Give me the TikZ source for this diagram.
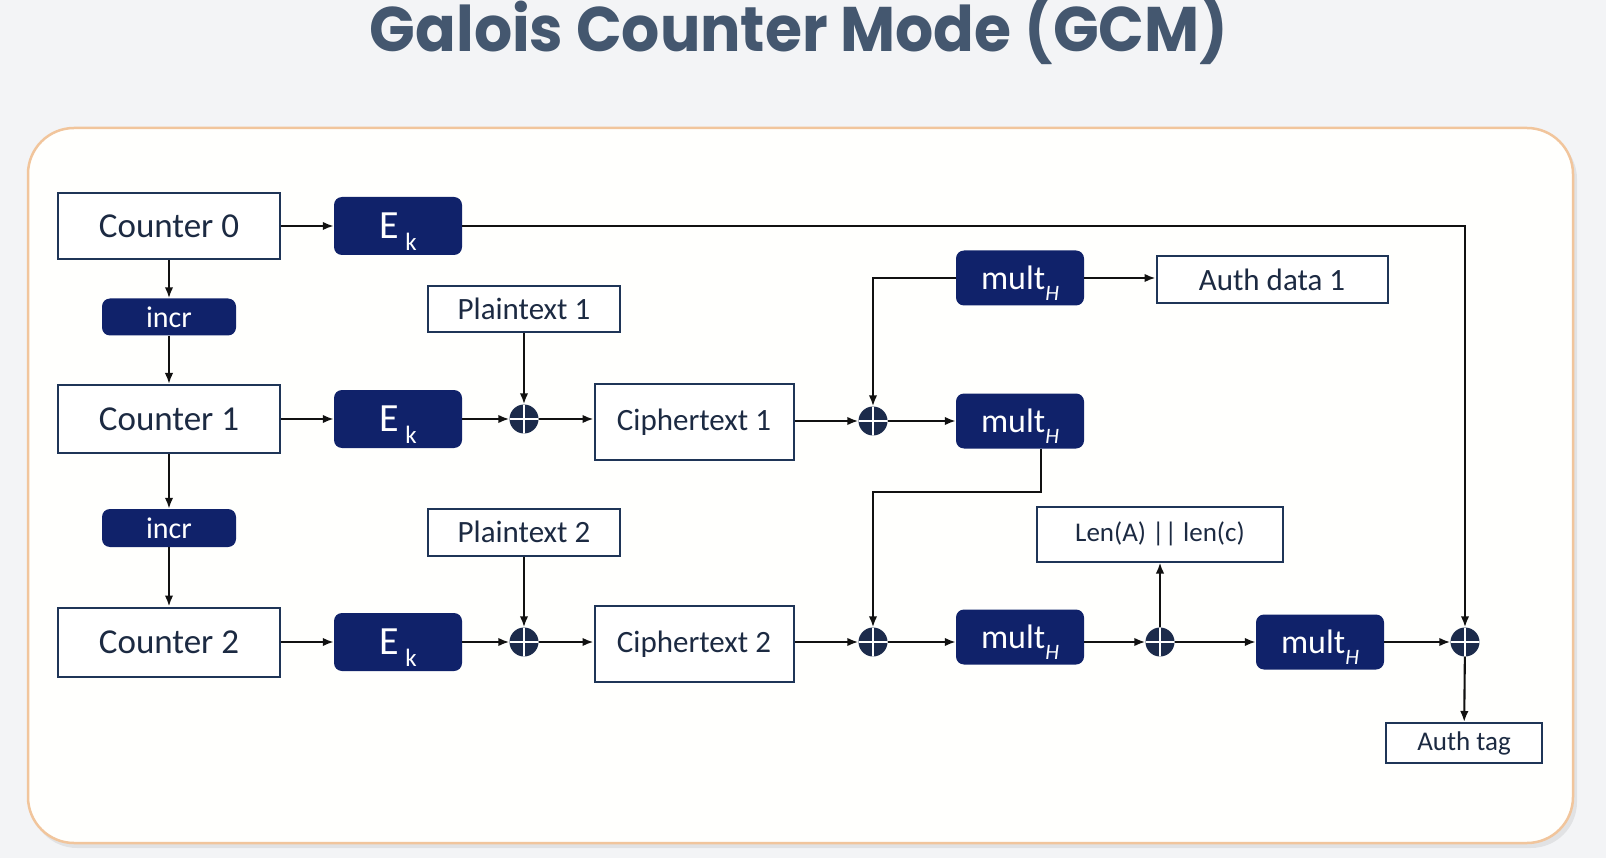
\documentclass[tikz,border=0pt]{standalone}
\usepackage{fontspec}
\setmainfont{Carlito}
\newfontfamily\titlefont{Poppins}
\usetikzlibrary{arrows.meta}
\definecolor{bgc}{HTML}{F3F4F6}
\definecolor{panelc}{HTML}{FFFFFD}
\definecolor{panelb}{HTML}{F1C59C}
\definecolor{navy}{HTML}{10226A}
\definecolor{xorc}{HTML}{1C2B4B}
\definecolor{boxc}{HTML}{1F3557}
\definecolor{txtc}{HTML}{1C2A42}
\definecolor{titlec}{HTML}{44576F}
\definecolor{linec}{HTML}{111111}
\newcommand{\fs}[1]{\fontsize{#1}{#1}\selectfont}
\newcommand{\Ek}{E\,\smash{\raisebox{-0.3em}{\fs{25}k}}}
\newcommand{\multH}{mult\smash{\raisebox{-0.32em}{\fs{22}\itshape H}}}
\begin{document}
\begin{tikzpicture}[x=1pt,y=-1pt,
  wbox/.style={draw=boxc, line width=2pt, fill=white, text=txtc, inner sep=0pt, align=center},
  nbox/.style={fill=navy, rounded corners=8pt, text=white, inner sep=0pt, align=center},
  xorn/.style={circle, fill=xorc, minimum size=29pt, inner sep=0pt,
    path picture={\draw[white, line width=1.4pt]
      (path picture bounding box.north) -- (path picture bounding box.south)
      (path picture bounding box.west) -- (path picture bounding box.east);}},
  arr/.style={draw=linec, line width=2.1pt, -{Latex[length=11pt,width=8.5pt]}}
]
\useasboundingbox (0,0) rectangle (1606,858);
\fill[bgc] (0,0) rectangle (1606,858);
% panel
\fill[black, opacity=0.07, rounded corners=46pt] (31,133) rectangle (1577,848);
\draw[draw=panelb, line width=2.5pt, fill=panelc, rounded corners=46pt] (28,128) rectangle (1573,843);
% title
\node[anchor=base, text=titlec, font=\titlefont\bfseries\fs{60}, inner sep=0pt] (title) at (799,52) {\scalebox{1}[1.05]{Galois Counter Mode (GCM)}};

% row 0
\node[wbox, minimum width=222pt, minimum height=66pt, font=\fs{35}] (c0) at (169,226) {Counter 0};
\node[nbox, minimum width=128pt, minimum height=58pt, font=\fs{40}] (e0) at (398,226) {\Ek};
\node[nbox, minimum width=134pt, minimum height=37pt, font=\fs{30}] (i1) at (169,317) {incr};

% row 1
\node[wbox, minimum width=222pt, minimum height=68pt, font=\fs{35}] (c1) at (169,419) {Counter 1};
\node[nbox, minimum width=128pt, minimum height=58pt, font=\fs{40}] (e1) at (398,419) {\Ek};
\node[xorn] (x1) at (524,419) {};
\node[wbox, minimum width=192pt, minimum height=46pt, font=\fs{31}] (p1) at (524,309) {Plaintext 1};
\node[wbox, minimum width=199pt, minimum height=75pt, font=\fs{31}] (ct1) at (694,422) {Ciphertext 1};
\node[xorn] (xr1) at (873,421) {};
\node[nbox, minimum width=128pt, minimum height=55pt, font=\fs{34}] (m1) at (1020,421) {\multH};
\node[nbox, minimum width=128pt, minimum height=55pt, font=\fs{34}] (mt) at (1020,278) {\multH};
\node[wbox, minimum width=231pt, minimum height=47pt, font=\fs{31}] (ad) at (1272,280) {Auth data 1};
\node[nbox, minimum width=134pt, minimum height=38pt, font=\fs{30}] (i2) at (169,528) {incr};

% row 2
\node[wbox, minimum width=222pt, minimum height=69pt, font=\fs{35}] (c2) at (169,642) {Counter 2};
\node[nbox, minimum width=128pt, minimum height=58pt, font=\fs{40}] (e2) at (398,642) {\Ek};
\node[xorn] (x2) at (524,642) {};
\node[wbox, minimum width=192pt, minimum height=47pt, font=\fs{31}] (p2) at (524,532) {Plaintext 2};
\node[wbox, minimum width=199pt, minimum height=76pt, font=\fs{31}] (ct2) at (694,644) {Ciphertext 2};
\node[xorn] (xr2) at (873,642) {};
\node[nbox, minimum width=128pt, minimum height=55pt, font=\fs{34}] (m2) at (1020,637) {\multH};
\node[xorn] (x3) at (1160,642) {};
\node[wbox, minimum width=246pt, minimum height=55pt, font=\fs{27}] (len) at (1160,534) {Len(A) || len(c)};
\node[nbox, minimum width=128pt, minimum height=55pt, font=\fs{34}] (m3) at (1320,642) {\multH};
\node[xorn] (x4) at (1465,642) {};
\node[wbox, minimum width=156pt, minimum height=40pt, font=\fs{27}] (tag) at (1464,743) {Auth tag};

% connectors
\draw[arr] (c0) -- (e0);
\draw[arr] (c0) -- (i1);
\draw[arr] (i1) -- (c1);
\draw[arr] (c1) -- (i2);
\draw[arr] (i2) -- (c2);
\draw[arr] (c1) -- (e1);
\draw[arr] (e1) -- (x1);
\draw[arr] (p1) -- (x1);
\draw[arr] (x1) -- (ct1.west |- x1);
\draw[arr] (ct1.east |- xr1) -- (xr1);
\draw[arr] (xr1) -- (m1);
\draw[arr] (mt.west) -| (xr1.north);
\draw[arr] (mt) -- (ad.west |- mt);
\draw[arr] ([xshift=21pt]m1.south) -- ++(0,43) -| (xr2.north);
\draw[arr] (c2) -- (e2);
\draw[arr] (e2) -- (x2);
\draw[arr] (p2) -- (x2);
\draw[arr] (x2) -- (ct2.west |- x2);
\draw[arr] (ct2.east |- xr2) -- (xr2);
\draw[arr] (xr2) -- (m2.west |- xr2);
\draw[arr] (m2.east |- x3) -- (x3);
\draw[arr] (x3) -- (len);
\draw[arr] (x3) -- (m3);
\draw[arr] (m3) -- (x4);
\draw[arr] (e0) -| (x4.north);
\draw[arr] (x4) -- (tag);
\end{tikzpicture}
\end{document}
